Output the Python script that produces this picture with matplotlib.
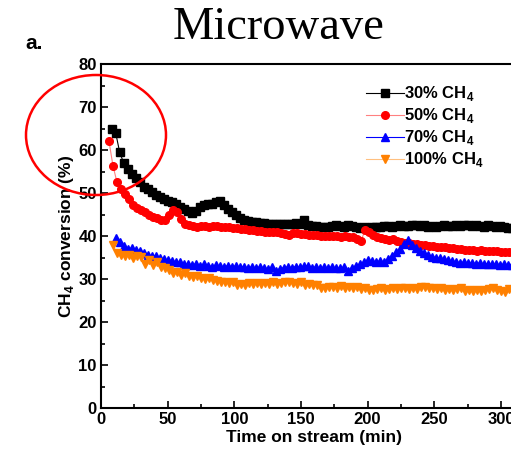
import numpy as np
import matplotlib
matplotlib.use('Agg')
import matplotlib.pyplot as plt
from matplotlib.patches import Ellipse

plt.rcParams['font.family'] = ['Liberation Sans', 'DejaVu Sans']
plt.rcParams['mathtext.fontset'] = 'custom'
plt.rcParams['mathtext.bf'] = 'Liberation Sans:bold'
plt.rcParams['mathtext.rm'] = 'Liberation Sans'

# Sampling times (min) for each run
t_30 = np.arange(8, 309, 3)
t_50 = np.arange(6, 307, 3)
t_70 = np.arange(11, 309, 3)
t_100 = np.arange(9, 307, 3)

# CH4 conversion (%)
conv_30 = [65.0, 64.0, 59.5, 57.0, 55.5, 54.5, 53.5, 52.5, 51.5, 51.0,
           50.2, 49.5, 49.0, 48.5, 48.2, 48.0, 47.5, 46.8, 46.3, 45.8,
           45.4, 45.8, 46.8, 47.3, 47.5, 47.4, 47.9, 48.1, 47.2, 46.3,
           45.5, 44.9, 44.3, 43.8, 43.5, 43.3, 43.2, 43.0, 43.0, 42.8,
           42.9, 42.7, 42.8, 42.9, 42.7, 42.9, 43.0, 42.8, 43.8, 42.6,
           42.4, 42.3, 42.2, 42.0, 42.1, 42.3, 42.6, 42.4, 42.2, 42.5,
           42.3, 42.0, 41.9, 42.2, 41.9, 42.0, 42.1, 42.2, 42.3, 42.3,
           42.2, 42.4, 42.5, 42.4, 42.3, 42.5, 42.6, 42.4, 42.6, 42.2,
           42.4, 42.1, 42.4, 42.5, 42.3, 42.4, 42.6, 42.3, 42.5, 42.5,
           42.3, 42.6, 42.4, 42.2, 42.5, 42.3, 42.1, 42.3, 42.0, 41.8,
           41.9]
conv_50 = [62.0, 56.3, 52.5, 51.0, 49.8, 48.5, 47.2, 46.5, 46.0, 45.5,
           44.8, 44.5, 44.2, 43.8, 43.8, 44.8, 46.0, 45.6, 44.0, 42.8,
           42.5, 42.3, 42.2, 42.4, 42.3, 42.2, 42.4, 42.3, 42.1, 42.2,
           42.1, 41.9, 41.8, 41.7, 41.6, 41.4, 41.3, 41.2, 41.2, 41.0,
           41.0, 40.9, 41.0, 40.6, 40.4, 40.2, 40.6, 40.6, 40.4, 40.5,
           40.3, 40.2, 40.2, 40.1, 40.0, 40.0, 39.9, 40.0, 39.8, 39.9,
           39.8, 39.7, 39.4, 38.8, 41.3, 41.0, 40.3, 39.8, 39.5, 39.3,
           39.1, 39.2, 38.9, 38.6, 38.4, 38.3, 38.2, 38.1, 38.0, 37.9,
           37.7, 37.6, 37.5, 37.4, 37.4, 37.2, 37.1, 37.0, 37.0, 36.8,
           36.8, 36.7, 36.6, 36.7, 36.6, 36.5, 36.5, 36.4, 36.3, 36.3,
           36.2]
conv_70 = [39.5, 38.6, 37.6, 37.0, 37.2, 36.7, 36.4, 36.0, 35.6, 35.4,
           35.3, 34.9, 34.6, 34.4, 34.3, 34.0, 33.9, 33.6, 33.4, 33.3,
           33.5, 33.0, 33.4, 33.1, 32.9, 33.2, 33.0, 32.8, 33.1, 32.9,
           33.0, 32.7, 32.9, 32.6, 32.8, 32.5, 32.8, 32.6, 32.4, 32.7,
           31.8, 32.4, 32.6, 32.8, 32.6, 32.9, 32.7, 33.0, 33.1, 32.6,
           32.8, 32.5, 32.7, 32.5, 32.8, 32.6, 32.5, 32.7, 31.9, 32.6,
           33.0, 33.4, 33.9, 34.4, 34.2, 33.9, 34.2, 34.0, 34.6, 35.4,
           36.2, 37.0, 38.2, 39.0, 38.0, 37.2, 36.6, 36.0, 35.5, 35.2,
           35.0, 34.8, 34.6, 34.4, 34.2, 34.0, 33.8, 33.9, 33.7, 33.8,
           33.6, 33.7, 33.5, 33.6, 33.4, 33.5, 33.3, 33.4, 33.3, 33.2]
conv_100 = [37.9, 36.0, 35.5, 35.3, 35.6, 35.0, 35.4, 35.1, 33.6, 34.5,
            33.3, 33.9, 32.8, 32.6, 32.2, 31.4, 31.6, 31.0, 31.3, 30.8,
            30.5, 30.6, 30.2, 30.0, 30.2, 29.7, 29.6, 29.3, 29.4, 29.0,
            29.2, 28.6, 28.9, 28.7, 29.0, 28.8, 29.1, 28.9, 29.0, 28.8,
            29.2, 28.9, 29.1, 29.3, 29.4, 29.0, 28.9, 29.2, 28.7, 28.9,
            28.5, 28.6, 28.0, 27.8, 28.1, 28.2, 27.9, 28.4, 28.0, 28.2,
            27.9, 28.1, 27.6, 27.8, 27.5, 27.4, 27.6, 27.8, 27.5, 27.7,
            27.9, 27.6, 27.8, 28.0, 27.7, 27.9, 27.6, 28.1, 28.2, 27.8,
            27.9, 27.6, 27.8, 27.5, 27.7, 27.4, 27.6, 27.8, 27.3, 27.5,
            27.2, 27.4, 27.1, 27.4, 27.6, 27.8, 27.5, 27.3, 27.0, 27.6]

labels = ['30% CH$_\\mathbf{4}$', '50% CH$_\\mathbf{4}$',
          '70% CH$_\\mathbf{4}$', '100% CH$_\\mathbf{4}$']

fig = plt.figure(figsize=(5.11, 4.62), dpi=100)
# axes run past the right edge of the figure (cropped like the original)
ax = fig.add_axes([101 / 511, 54 / 462, 320 * 1.333 / 511, 344 / 462])

ax.plot(t_30, conv_30, '-s', color='black', ms=5.5, lw=0.8, label=labels[0])
ax.plot(t_50, conv_50, '-o', color='#ff8080', mfc='red', mec='red', ms=5.5, lw=0.8, label=labels[1])
ax.plot(t_70, conv_70, '-^', color='blue', ms=6, lw=0.8, label=labels[2])
ax.plot(t_100, conv_100, '-v', color='#ffc080', mfc='#ff8000', mec='#ff8000', ms=6, lw=0.8, label=labels[3])

ax.set_xlim(0, 320)
ax.set_ylim(0, 80)
ax.set_xticks(np.arange(0, 301, 50))
ax.set_xticks(np.arange(25, 320, 50), minor=True)
ax.set_yticks(np.arange(0, 81, 10))
ax.set_yticks(np.arange(5, 80, 10), minor=True)
ax.tick_params(which='both', direction='in', width=1.2, labelsize=12)
ax.tick_params(which='major', length=5, pad=3)
ax.tick_params(which='minor', length=3)
for lab in ax.get_xticklabels() + ax.get_yticklabels():
    lab.set_fontweight('bold')
for sp in ax.spines.values():
    sp.set_linewidth(1.5)

ax.set_xlabel('Time on stream (min)', fontsize=12.5, fontweight='bold', labelpad=2)
ax.set_ylabel('CH$_\\mathbf{4}$ conversion (%)', fontsize=12.5, fontweight='bold', labelpad=2)

leg = ax.legend(loc='upper left', bbox_to_anchor=(258 / 426.6, 0.96), frameon=False,
                prop={'weight': 'bold', 'size': 12}, handlelength=2.3,
                handletextpad=0.0, labelspacing=0.18, borderaxespad=0)

fig.text(0.545, 0.94, 'Microwave', family='Liberation Serif', fontsize=33.5,
         ha='center', va='center')
fig.text(0.05, 0.905, 'a.', fontsize=15, fontweight='bold', ha='left', va='center')

circle = Ellipse((96 / 511, 1 - 135 / 462), 140 / 511, 120 / 462,
                 transform=fig.transFigure, fill=False, edgecolor='red', lw=1.8)
fig.add_artist(circle)

fig.savefig('out.png', dpi=100)
